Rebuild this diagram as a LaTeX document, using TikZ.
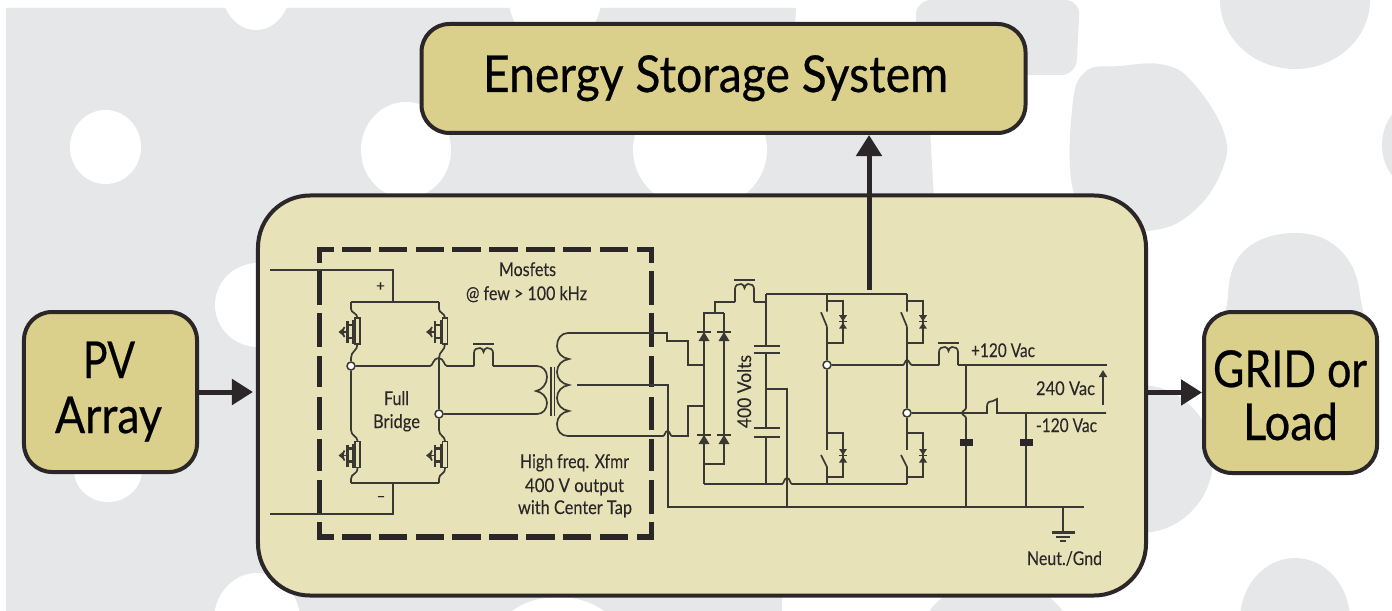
\documentclass[tikz,border=0pt]{standalone}
\usepackage{graphicx}
\usepackage{fontspec}
\setmainfont{Lato}
\newfontfamily\titlefont{Lato}[FakeBold=0.5]
\newfontfamily\tagfont{Lato}[FakeBold=0.15]
\usetikzlibrary{arrows.meta,calc}
\definecolor{ink}{HTML}{2B2728}
\definecolor{wire}{HTML}{3A3832}
\definecolor{sheet}{HTML}{E6E7E8}
\definecolor{boxfill}{HTML}{DAD08B}
\definecolor{panel}{HTML}{E8E2B8}
\newcommand{\fitw}[2]{\resizebox{#1bp}{\height}{#2}}
\tikzset{
  x=1bp,y=-1bp,
  blob/.style={fill=sheet,draw=none},
  hole/.style={fill=white,draw=none},
  outerbox/.style={draw=ink,line width=4bp,fill=boxfill,rectangle,rounded corners=28bp,inner sep=0pt},
  panelbox/.style={draw=ink,line width=4bp,fill=panel,rectangle,rounded corners=52bp,inner sep=0pt},
  bigarrow/.style={draw=ink,line width=5bp,-{Triangle[length=21bp,width=25bp]}},
  title/.style={anchor=base,inner sep=0pt,text=black,font=\titlefont\fontsize{51}{51}\selectfont},
  tag/.style={anchor=base,inner sep=0pt,text=ink,font=\tagfont\fontsize{19}{19}\selectfont},
  ln/.style={draw=wire,line width=1.7bp},
  dash seg/.style={draw=ink,line width=5.5bp},
  joint/.style={circle,draw=wire,line width=1.5bp,fill=white,minimum size=8bp,inner sep=0pt},
  mosfet/.pic={
    \draw[ln] (-2.5,-13) rectangle (2.5,13);
    \draw[ln,line width=2.6bp] (-10,-10)--(-10,12);
    \draw[ln,line width=2.6bp] (-4,-11)--(-4,13);
    \draw[ln,line width=2.2bp] (-10,-6)--(-4,-6) (-10,7)--(-4,7);
    \fill[wire] (-19,1)--(-14,-3)--(-14,5)--cycle;
    \draw[ln] (-13,-4) .. controls (-15,-2) and (-15,4) .. (-13,6);
    \draw[ln] (-14,1)--(-10,1);
  },
  coil/.pic={
    \draw[ln] (0,0)--(0,-13) .. controls (0,-17) and (3,-18) .. (6,-18) .. controls (8,-18) and (9,-16) .. (9.5,-14) .. controls (10,-16) and (11,-18) .. (13,-18) .. controls (16,-18) and (19,-17) .. (19,-13)--(19,0);
    \draw[ln] (-1,-22)--(20,-22);
  },
  diodeup/.pic={
    \draw[ln,line width=2.2bp] (-7,0)--(7,0);
    \fill[wire] (0,0)--(-5.5,9)--(5.5,9)--cycle;
  },
  swup/.pic={
    \draw[ln] (0,-6.7)--(0,11) (-6,11.5)--(0,26);
    \draw[ln] (0,0)--(16,0)--(16,42)--(0,42);
    \fill[wire] (12,14.5)--(20,14.5)--(16,20.5)--cycle;
    \fill[wire] (12,28)--(20,28)--(16,22)--cycle;
    \draw[ln,line width=1bp] (12,21.2)--(20,21.2);
  },
  swdown/.pic={
    \draw[ln] (-6,22)--(0,34) (0,34)--(0,51);
    \draw[ln] (0,0)--(16,0)--(16,44)--(0,44);
    \fill[wire] (12,16)--(20,16)--(16,22)--cycle;
    \fill[wire] (12,29.5)--(20,29.5)--(16,23.5)--cycle;
    \draw[ln,line width=1bp] (12,22.7)--(20,22.7);
  },
}
\begin{document}
\begin{tikzpicture}
\useasboundingbox (0,0) rectangle (1392,611);
\clip (0,0) rectangle (1392,611);
\fill[white] (0,0) rectangle (1392,611);
% backdrop sheet
\fill[sheet] (6,8)--(796,8)--(782,300)--(782,611)--(6,611)--cycle;
\fill[blob] (740,130)--(930,130)--(934,200)--(740,200)--cycle;
% white holes
\fill[hole] (105.5,147) ellipse [x radius=35.5,y radius=37];
\fill[hole] (406,150) ellipse [x radius=45,y radius=48];
\fill[hole] (256,-10) ellipse [x radius=34,y radius=40];
\fill[hole] (555,0) ellipse [x radius=46,y radius=45];
\fill[hole] (700,150) ellipse [x radius=67,y radius=60];
\fill[hole] (258,305) ellipse [x radius=43,y radius=42];
\fill[hole] (108,470) ellipse [x radius=34,y radius=32];
\fill[hole] (257,620) ellipse [x radius=43,y radius=47];
\fill[hole] (558,640) ellipse [x radius=62,y radius=43];
% grey blobs
\fill[blob,rounded corners=15bp] (916,0)--(1080,0)--(1076,75)--(916,75)--cycle;
\fill[blob] plot[smooth cycle,tension=0.7] coordinates {(1072,110) (1085,72) (1120,66) (1165,65) (1195,85) (1224,133) (1222,170) (1195,210) (1155,230) (1100,225) (1073,190)};
\fill[blob] (1295,0) ellipse [x radius=75,y radius=69];
\fill[blob] (1420,145) ellipse [x radius=38,y radius=45];
\fill[blob] plot[smooth cycle,tension=0.7] coordinates {(1228,295) (1245,250) (1295,233) (1340,250) (1360,295) (1350,340) (1240,340)};
\fill[blob] (1140,459) ellipse [x radius=73,y radius=74];
\fill[blob] (1295,620) ellipse [x radius=55,y radius=62];
\fill[blob] (996,640) ellipse [x radius=76,y radius=60];
% boxes
\node[outerbox,minimum width=604bp,minimum height=109bp] (ess) at (723.5,78.5) {};
\node[panelbox,minimum width=888bp,minimum height=400bp] (conv) at (702,395.5) {};
\node[outerbox,minimum width=173bp,minimum height=160bp] (pv) at (110.5,392) {};
\node[outerbox,minimum width=173bp,minimum height=161bp] (grid) at (1290.5,392.5) {};
% titles
\node[title] (esstext) at (715.5,92) {\fitw{465}{Energy Storage System}};
\node[title] (pvtext) at (109,378) {\fitw{52}{PV}};
\node[title] (arraytext) at (108.5,433) {\fitw{107}{Array}};
\node[title] (gridtext) at (1290,387) {\fitw{154}{GRID or}};
\node[title] (loadtext) at (1290.5,440) {\fitw{95}{Load}};
% main arrows
\coordinate (esstap) at (869,290);
\draw[bigarrow,shorten >=3bp] (pv.east) -- (pv.east -| conv.west);
\draw[bigarrow] (grid.west -| conv.east) -- (grid.west);
\draw[bigarrow] (esstap) -- (esstap |- ess.south);
% dashed frame
\draw[dash seg] (319.5,263)--(319.5,249.5)--(334,249.5);
\draw[dash seg] (637,249.5)--(651.7,249.5)--(651.7,263);
\draw[dash seg] (319.5,522)--(319.5,537)--(334,537);
\draw[dash seg] (637,537)--(651.7,537)--(651.7,522);
\foreach \k in {0,...,7}{
  \draw[dash seg] ({342+36.8*\k},249.5)--({370.5+36.8*\k},249.5);
  \draw[dash seg] ({342+36.8*\k},537)--({370.5+36.8*\k},537);
}
\foreach \a/\b in {271/305,313/347,356/387,397/430,439/471,480/514}{
  \draw[dash seg] (319.5,\a)--(319.5,\b);
  \draw[dash seg] (651.7,\a)--(651.7,\b);
}
% full bridge
\node[joint] (jl) at (351,366) {};
\node[joint] (jr) at (439,414) {};
\draw[ln] (270,270)--(393,270)--(393,302);
\draw[ln] (270,514)--(393,514)--(393,483);
\draw[ln] (351,302)--(439,302);
\draw[ln] (351,483)--(439,483);
\foreach \u/\r in {351/357.5,439/445}{
  \draw[ln] (\u,302)--(\u,309) .. controls (\u,313) and (\r,313) .. (\r,318);
  \draw[ln] (\r,344) .. controls (\r,351) and (\u,351) .. (\u,358);
  \draw[ln] (\u,430) .. controls (\u,436) and (\r,436) .. (\r,441);
  \draw[ln] (\r,468) .. controls (\r,475) and (\u,473) .. (\u,479)--(\u,483);
  \pic at (\r,331) {mosfet};
  \pic at (\r,454.5) {mosfet};
}
\draw[ln] (jl)--(351,430);
\draw[ln] (351,358)--(jl);
\draw[ln] (439,358)--(jr);
\draw[ln] (jr)--(439,430);
\draw[ln] (jl)--(430,366) .. controls (433,366) and (433,358) .. (438.5,358) .. controls (444,358) and (444,366) .. (447,366)--(474,366);
\pic at (474,366) {coil};
\draw[ln] (493,366)--(537,366) .. controls (543,366) and (547,371) .. (547,377) .. controls (547,384) and (542,390) .. (536,391) .. controls (542,392) and (547,397) .. (547,403) .. controls (547,409) and (543,414) .. (537,414)--(jr);
\draw[ln] (551,367)--(551,416) (554.5,367)--(554.5,416);
% secondary
\draw[ln] (568,333) .. controls (561,333) and (557,339) .. (557,346) .. controls (557,353) and (562,358) .. (569,359) .. controls (562,360) and (557,365) .. (557,372) .. controls (557,379) and (562,384) .. (569,385) .. controls (562,386) and (557,391) .. (557,398) .. controls (557,405) and (562,410) .. (569,411) .. controls (562,412) and (557,417) .. (557,424) .. controls (557,431) and (561,436) .. (568,436);
\draw[ln] (568,333)--(667,333)--(667,341)--(688,341)--(688,365)--(704,365);
\draw[ln] (577,385)--(668,385)--(668,507)--(1084,507);
\draw[ln] (568,436)--(663,436) .. controls (665,436) and (665,431) .. (667.5,431) .. controls (670,431) and (670,436) .. (672,436)--(688,436)--(688,406)--(704,406);
% rectifier
\draw[ln] (724,313)--(704,313)--(704,484);
\draw[ln] (724,313)--(724,464)--(704,464);
\draw[ln] (715,313)--(715,302)--(735,302);
\pic at (735,302) {coil};
\draw[ln] (754,302)--(766,302);
\pic at (704,332) {diodeup};
\pic at (724,332) {diodeup};
\pic at (704,435) {diodeup};
\pic at (724,435) {diodeup};
% DC link
\draw[ln] (766,294)--(766,346) (766,353)--(766,428) (766,437)--(766,484);
\draw[ln] (754,346)--(780,346) (754,353)--(780,353) (754,428)--(780,428) (754,437)--(780,437);
\draw[ln] (766,389)--(787,389)--(787,507);
\draw[ln] (704,484)--(782,484) .. controls (784,484) and (784,478) .. (787,478) .. controls (790,478) and (790,484) .. (792,484)--(907,484);
\node[tag,rotate=90,anchor=base] (volts) at (751,391.5) {\fitw{73}{400 Volts}};
% inverter
\draw[ln] (766,294)--(907,294);
\node[joint] (jm) at (827,365) {};
\node[joint] (jn) at (907,413) {};
\pic at (827,300.7) {swup};
\pic at (907,300.7) {swup};
\pic at (827,433) {swdown};
\pic at (907,433) {swdown};
\draw[ln] (827,327)--(jm);
\draw[ln] (jm)--(827,450);
\draw[ln] (907,327)--(jn);
\draw[ln] (jn)--(907,450);
\draw[ln] (jm)--(903,365) .. controls (904.5,365) and (905,360) .. (907,360) .. controls (909,360) and (910,365) .. (912,365)--(939,365);
\pic at (939,365) {coil};
\draw[ln] (958,365)--(1107,365);
\draw[ln] (jn)--(987,413)--(987,406) .. controls (987,402) and (990,401) .. (993,401)--(997,399)--(997,413)--(1106,413);
\draw[ln] (966,365)--(966,408) .. controls (966,410) and (962,411) .. (962,413) .. controls (962,415) and (966,416) .. (966,418)--(966,507);
\draw[ln] (1026,413)--(1026,507);
\fill[ink] (960,439) rectangle (972.5,445.5);
\fill[ink] (1020,439) rectangle (1033,445.5);
\draw[ln,-{Triangle[length=7bp,width=8bp]}] (1103,405)--(1103,370);
% ground
\draw[ln] (1063,507)--(1063,532);
\draw[ln,line width=2.6bp] (1052,532.5)--(1075,532.5);
\draw[ln,line width=2.6bp] (1056,537)--(1070,537);
\draw[ln,line width=2.6bp] (1060,541)--(1066,541);
% labels
\node[tag] (mos) at (527.5,276) {\fitw{57}{Mosfets}};
\node[tag] (few) at (526.5,300) {\fitw{121}{@ few > 100 kHz}};
\node[tag] (full) at (396.5,405) {\fitw{25}{Full}};
\node[tag] (bridge) at (396.5,428) {\fitw{47}{Bridge}};
\node[tag,font=\tagfont\fontsize{15}{15}\selectfont] (plus) at (380.5,291) {+};
\node[tag,font=\tagfont\fontsize{15}{15}\selectfont] (minus) at (381,501) {\textendash};
\node[tag] (hf) at (574.5,468) {\fitw{109}{High freq. Xfmr}};
\node[tag] (fourv) at (574.5,492) {\fitw{99}{400 V output}};
\node[tag] (ct) at (575,514) {\fitw{114}{with Center Tap}};
\node[tag] (pp) at (1003,357) {\fitw{64}{+120 Vac}};
\node[tag] (vv) at (1065.5,395) {\fitw{59}{240 Vac}};
\node[tag] (mm) at (1066.5,432) {\fitw{61}{-120 Vac}};
\node[tag] (ng) at (1064.5,565) {\fitw{75}{Neut./Gnd}};
\end{tikzpicture}
\end{document}
